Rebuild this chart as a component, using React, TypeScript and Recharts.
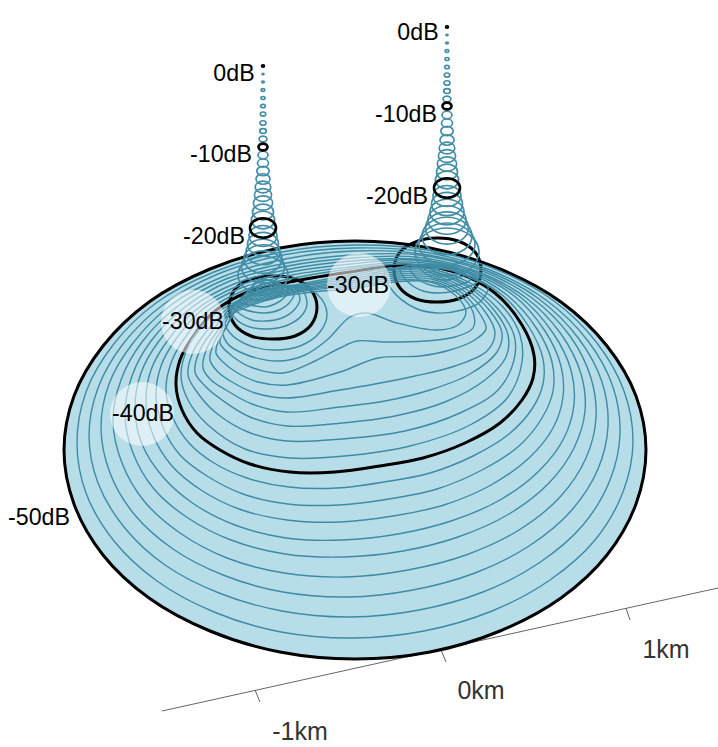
import React from 'react';
import { ComposedChart, Line, Area, Scatter, XAxis, YAxis } from 'recharts';

const W = 718, H = 747;
const FILL = '#b7dde8', TEAL = '#3f8ba4', RING = '#438ea7';

const discX = [64, 66, 70, 80, 90, 110, 150, 200, 250, 300, 355, 410, 460, 510, 560, 600, 620, 630, 640, 644, 646];
const discTop = [450, 425, 407, 382, 364, 337, 302, 273, 255, 245, 241, 245, 255, 273, 302, 337, 364, 382, 407, 425, 450];
const discBottom = [450, 475, 493, 518, 536, 563, 598, 627, 645, 655, 659, 655, 645, 627, 598, 563, 536, 518, 493, 475, 450];

const outer = [[64,450],[74,396],[103,346],[149,302],[210,269],[280,248],[355,241],[430,248],[500,269],[561,302],[607,346],[636,396],[646,450],[636,504],[607,555],[561,598],[500,631],[430,652],[355,659],[280,652],[210,631],[149,598],[103,555],[74,504]];
const bigBlack = [[176,385],[180,360],[192,338],[215,311],[248,292],[295,281],[350,272],[405,265],[455,272],[495,293],[522,325],[534,355],[533,378],[522,400],[500,423],[465,443],[423,458],[380,466],[335,472],[290,472],[250,464],[220,450],[197,433],[182,410]];
const baseLeft = [[229,307],[236,288],[255,278],[273,276],[295,279],[311,290],[317,307],[311,325],[295,336],[273,339],[251,336],[235,325]];
const baseRight = [[394,270],[400,252],[418,241],[437,238],[458,241],[475,252],[481,270],[475,288],[458,299],[437,302],[416,299],[400,288]];

const k1 = [[77,443],[86,392],[113,345],[156,303],[214,272],[282,252],[354,245],[427,250],[495,269],[554,301],[597,343],[624,391],[633,442],[623,492],[595,540],[550,580],[492,611],[424,631],[353,638],[281,632],[214,612],[157,581],[114,541],[86,493]];
const k2 = [[89,435],[98,388],[123,344],[164,304],[218,274],[283,255],[354,248],[424,252],[490,270],[546,300],[588,341],[613,387],[620,434],[610,480],[583,525],[539,563],[483,592],[419,610],[350,617],[282,611],[219,593],[165,565],[124,527],[98,483]];
const k3 = [[101,428],[109,384],[133,343],[171,305],[222,277],[285,259],[353,251],[422,254],[485,270],[539,299],[579,339],[602,382],[608,426],[598,469],[571,511],[529,546],[475,573],[413,590],[348,597],[283,592],[223,575],[173,549],[134,514],[110,473]];
const k4 = [[113,421],[121,380],[142,342],[178,306],[226,279],[287,263],[353,255],[419,255],[480,270],[532,298],[570,336],[591,378],[596,418],[586,458],[560,497],[519,530],[466,555],[408,570],[346,577],[284,573],[227,558],[180,533],[144,501],[122,463]];
const k5 = [[125,415],[132,376],[151,341],[185,307],[230,281],[288,266],[352,258],[416,257],[476,271],[525,297],[561,334],[581,374],[585,411],[574,448],[549,483],[509,514],[458,537],[403,551],[344,557],[285,554],[231,540],[188,518],[154,489],[133,453]];
const k6 = [[135,409],[141,373],[159,341],[191,308],[234,284],[290,269],[352,261],[414,259],[472,271],[519,296],[553,333],[571,370],[574,404],[564,438],[539,471],[500,500],[451,521],[398,534],[342,540],[286,538],[235,525],[194,504],[163,477],[142,444]];
const k7 = [[146,402],[151,370],[168,340],[197,309],[238,286],[291,272],[351,264],[412,260],[467,271],[513,295],[545,331],[561,366],[563,397],[553,428],[529,458],[491,485],[444,505],[393,516],[340,522],[287,520],[239,509],[201,490],[172,466],[153,435]];
const k8 = [[156,396],[161,366],[176,339],[203,309],[241,288],[292,275],[351,267],[409,262],[463,271],[507,295],[537,329],[552,362],[553,391],[542,418],[519,446],[482,470],[437,489],[389,499],[339,505],[288,504],[243,494],[207,476],[180,455],[163,427]];
const k9 = [[166,391],[171,363],[184,339],[209,310],[245,290],[294,278],[350,269],[407,264],[459,272],[501,294],[529,327],[543,359],[543,384],[532,409],[509,434],[473,456],[430,473],[384,482],[337,488],[289,487],[247,478],[214,463],[189,443],[173,418]];

const b1 = [[181,375],[189,345],[206,322],[231,304],[262,291],[300,284],[350,275],[395,268],[435,270],[472,284],[503,307],[520,335],[522,362],[508,397],[470,425],[410,446],[345,456],[290,458],[245,449],[208,425],[188,400]];
const b2 = [[188,375],[194,350],[210,327],[232,305],[264,292],[302,285],[350,277],[395,270],[435,272],[470,286],[498,309],[514,335],[514,360],[498,390],[460,413],[405,431],[342,439],[287,441],[248,432],[215,412],[197,392]];
const b3 = [[195,372],[200,350],[214,329],[233,306],[266,293],[304,286],[350,279],[395,272],[435,274],[468,287],[494,310],[508,335],[506,357],[485,380],[445,402],[395,416],[342,423],[287,426],[250,417],[222,400],[204,385]];
const b4 = [[203,368],[207,348],[218,330],[234,307],[268,294],[306,287],[350,281],[395,274],[435,276],[466,289],[490,311],[502,333],[497,352],[470,374],[430,390],[385,401],[340,407],[287,412],[252,404],[226,390],[211,380]];
const b5 = [[210,360],[213,345],[222,329],[235,308],[270,295],[308,288],[350,283],[395,276],[435,278],[464,291],[486,313],[495,333],[487,351],[455,366],[415,376],[375,384],[340,390],[287,398],[255,393],[232,382],[218,372]];
const b6 = [[216,353],[218,342],[226,328],[236,309],[272,296],[310,289],[350,285],[395,278],[435,280],[462,293],[480,314],[486,329],[473,341],[450,350],[420,356],[378,358],[340,372],[287,385],[258,382],[236,372],[223,362]];
const b7 = [[220,343],[223,332],[229,322],[237,310],[274,297],[312,290],[350,287],[395,280],[435,282],[460,295],[473,312],[473,328],[455,337],[425,341],[385,342],[357,341],[340,348],[315,361],[283,373],[253,368],[232,356]];
const b8 = [[222,322],[238,311],[275,298],[312,292],[350,289],[395,282],[430,282],[455,295],[466,312],[458,325],[437,330],[397,323],[367,313],[350,317],[327,340],[305,355],[280,361],[247,355],[227,343]];

const leftOuterArc = [[224,318],[240,300],[270,290],[300,286],[318,295],[327,313],[320,332],[300,346],[273,350],[248,345],[230,333]];
const leftArc1 = [[231,310],[237,320],[250,327],[268,329],[288,325],[303,314],[307,302],[300,288],[270,290],[245,298]];
const leftArc2 = [[233,306],[240,314],[252,320],[266,321],[282,318],[295,309],[300,298],[292,286],[268,289],[245,297]];
const leftArc3 = [[235,304],[243,309],[254,312],[265,313],[279,310],[290,302],[294,293],[285,285],[265,288],[248,295]];
const leftArc4 = [[238,302],[246,304],[255,306],[265,307],[275,304],[284,298],[288,290],[280,284],[262,287],[248,293]];
const leftArc5 = [[242,298],[250,299],[258,300],[265,300],[274,298],[280,293],[283,287],[275,282],[260,285],[250,290]];
const leftArc6 = [[247,293],[255,295],[265,295],[272,292],[278,286],[270,280],[257,283]];
const leftArc7 = [[252,288],[260,290],[267,289],[273,283],[265,279],[256,282]];
const rightOuterArc = [[385,272],[392,290],[415,308],[437,313],[462,310],[480,302],[488,287],[475,280],[450,270],[420,268]];
const rightArc1 = [[400,268],[408,282],[423,291],[438,293],[455,291],[470,286],[478,281],[462,270],[440,265],[420,265]];
const rightArc2 = [[410,268],[418,279],[430,285],[442,287],[457,285],[470,280],[460,270],[440,266],[425,266]];
const rightArc3 = [[420,268],[428,275],[437,279],[447,280],[460,277],[466,275],[455,270],[440,267]];
const rightArc4 = [[430,268],[438,273],[448,275],[458,272],[450,268]];

const axisLine = [[162,711],[718,588]];
const tickMinus1 = [[255,690],[260,702]];
const tick0 = [[441,650],[446,662]];
const tick1 = [[626,608],[630,620]];

const ringRadii = [1, 1, 1.3, 1.8, 2, 2.3, 2.7, 3, 3.3, 3.9, 4.5, 5, 5.5, 6.2, 7, 7.8, 8.6, 9.6, 10.5, 11.7, 13, 14, 15.5, 17, 19, 21.5, 25, 28, 32];
const leftRingY = [66, 74, 82, 90, 98, 106, 114, 123, 131, 139, 147, 155, 163, 171, 179, 187, 195, 203, 212, 220, 228, 236, 244, 252, 259, 267, 275];
const rightRingY = [27, 35, 43, 51, 59, 67, 75, 83, 91, 99, 106, 115, 123, 131, 140, 148, 156, 164, 172, 180, 188, 196, 204, 212, 220, 228, 236, 244, 252];

const blackRings = [
  { x: 263, y: 66, r: 1 }, { x: 263, y: 147, r: 4.5 }, { x: 263, y: 228, r: 13 },
  { x: 447, y: 27, r: 1 }, { x: 447, y: 106, r: 4.5 }, { x: 447, y: 188, r: 13 },
];
const halos = [{ x: 193, y: 322 }, { x: 359, y: 285 }, { x: 142, y: 414 }];
const dbLabels = [
  { x: 234, y: 73, t: '0dB' }, { x: 221, y: 154, t: '-10dB' }, { x: 214, y: 236, t: '-20dB' },
  { x: 418, y: 32, t: '0dB' }, { x: 406, y: 114, t: '-10dB' }, { x: 397, y: 196, t: '-20dB' },
  { x: 193, y: 321, t: '-30dB' }, { x: 358, y: 285, t: '-30dB' }, { x: 143, y: 413, t: '-40dB' }, { x: 39, y: 517, t: '-50dB' },
];
const kmLabels = [
  { x: 300, y: 731, t: '-1km' }, { x: 481, y: 690, t: '0km' }, { x: 666, y: 649, t: '1km' },
];

const pts = (a: number[][]) => a.map(([x, y]) => ({ x, y }));
const disc = discX.map((x, i) => ({ x, band: [discTop[i], discBottom[i]] }));
const tealLines = [k1, k2, k3, k4, k5, k6, k7, k8, k9, b1, b2, b3, b4, b5, b6, b7, b8, leftOuterArc, leftArc1, leftArc2, leftArc3, leftArc4, leftArc5, leftArc6, leftArc7, rightOuterArc, rightArc1, rightArc2, rightArc3, rightArc4];
const blackLines = [outer, bigBlack, baseLeft, baseRight];
const axisLines = [axisLine, tickMinus1, tick0, tick1];
const leftRings = leftRingY.map((y, i) => ({ x: 263, y, r: ringRadii[i] }));
const rightRings = rightRingY.map((y, i) => ({ x: 447, y, r: ringRadii[i] }));

// closed centripetal Catmull-Rom path through the points, given to Line as its curve
const closedSmooth = (context: any) => {
  let p: number[][] = [];
  return {
    areaStart() {},
    areaEnd() {},
    lineStart() { p = []; },
    point(x: number, y: number) { p.push([+x, +y]); },
    lineEnd() {
      const n = p.length;
      if (!n) return;
      context.moveTo(p[0][0], p[0][1]);
      for (let i = 0; i < n; i++) {
        const a = p[(i - 1 + n) % n], b = p[i], c = p[(i + 1) % n], d = p[(i + 2) % n];
        const d1 = Math.hypot(b[0] - a[0], b[1] - a[1]);
        const d2 = Math.hypot(c[0] - b[0], c[1] - b[1]);
        const d3 = Math.hypot(d[0] - c[0], d[1] - c[1]);
        const s1 = Math.sqrt(d1), s2 = Math.sqrt(d2), s3 = Math.sqrt(d3);
        const k1a = 2 * d1 + 3 * s1 * s2 + d2, n1 = 3 * s1 * (s1 + s2);
        const k2a = 2 * d3 + 3 * s3 * s2 + d2, n2 = 3 * s3 * (s3 + s2);
        context.bezierCurveTo(
          (b[0] * k1a - a[0] * d2 + c[0] * d1) / n1,
          (b[1] * k1a - a[1] * d2 + c[1] * d1) / n1,
          (c[0] * k2a + b[0] * d3 - d[0] * d2) / n2,
          (c[1] * k2a + b[1] * d3 - d[1] * d2) / n2,
          c[0],
          c[1],
        );
      }
      context.closePath();
    },
  };
};

const ellipse = (stroke: string, sw: number) => (p: any) => (
  <ellipse cx={p.cx} cy={p.cy} rx={p.payload.r} ry={p.payload.r * 0.75} fill="none" stroke={stroke} strokeWidth={sw} />
);
const halo = (p: any) => <circle cx={p.cx} cy={p.cy} r={32} fill="#ffffff" fillOpacity={0.55} />;
const label = (size: number, color: string) => (p: any) => (
  <text x={p.cx} y={p.cy} textAnchor="middle" dominantBaseline="central" fontFamily="Liberation Sans, Arial, sans-serif" fontSize={size} fill={color}>{p.payload.t}</text>
);

export default function App() {
  return (
    <div style={{ position: 'absolute', left: 0, top: 0, width: W, height: H }}>
      <ComposedChart width={W} height={H} margin={{ top: 0, right: 0, bottom: 0, left: 0 }}>
        <XAxis type="number" dataKey="x" domain={[0, W]} hide />
        <YAxis type="number" dataKey="y" domain={[0, H]} reversed hide />
        <Area data={disc} dataKey="band" type="natural" fill={FILL} fillOpacity={1} stroke="none" dot={false} activeDot={false} isAnimationActive={false} />
        {axisLines.map((l, i) => (
          <Line key={'a' + i} data={pts(l)} dataKey="y" type="linear" stroke="#666666" strokeWidth={1} dot={false} activeDot={false} isAnimationActive={false} />
        ))}
        {blackLines.map((l, i) => (
          <Line key={'b' + i} data={pts(l)} dataKey="y" type={closedSmooth as any} stroke="#000000" strokeWidth={3} dot={false} activeDot={false} isAnimationActive={false} />
        ))}
        {tealLines.map((l, i) => (
          <Line key={'t' + i} data={pts(l)} dataKey="y" type={closedSmooth as any} stroke={TEAL} strokeWidth={1.4} dot={false} activeDot={false} isAnimationActive={false} />
        ))}
        <Scatter data={leftRings} shape={ellipse(RING, 1.7)} isAnimationActive={false} />
        <Scatter data={rightRings} shape={ellipse(RING, 1.7)} isAnimationActive={false} />
        <Scatter data={blackRings} shape={ellipse('#000000', 2.6)} isAnimationActive={false} />
        <Scatter data={halos} shape={halo} isAnimationActive={false} />
        <Scatter data={dbLabels} shape={label(23.2, '#000000')} isAnimationActive={false} />
        <Scatter data={kmLabels} shape={label(25, '#333333')} isAnimationActive={false} />
      </ComposedChart>
    </div>
  );
}
